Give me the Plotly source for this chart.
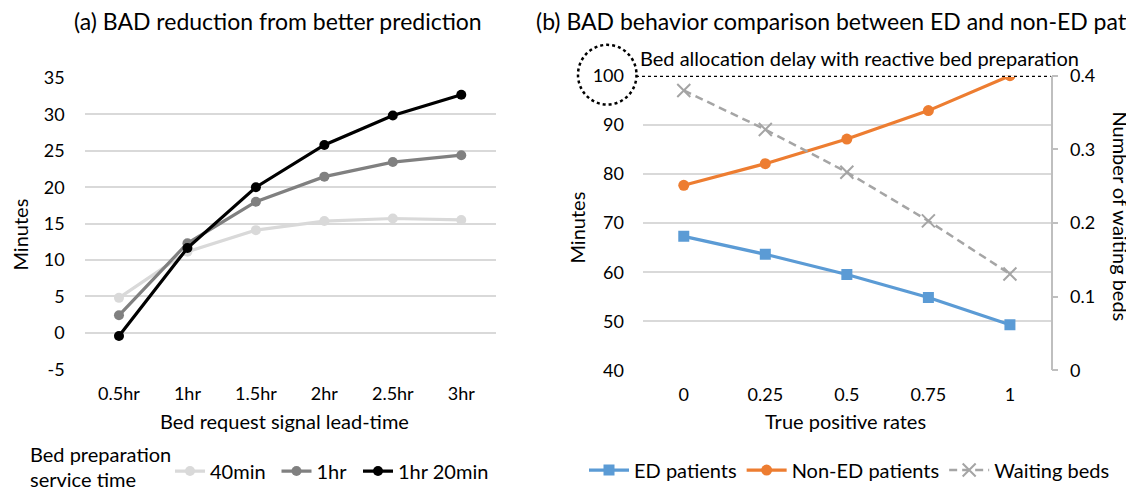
import plotly.graph_objects as go

# ---------------- data ----------------
lead_times = ["0.5hr", "1hr", "1.5hr", "2hr", "2.5hr", "3hr"]
bad_40min = [4.8, 11.15, 14.1, 15.35, 15.7, 15.5]
bad_1hr = [2.4, 12.3, 18.0, 21.45, 23.45, 24.4]
bad_1hr20 = [-0.45, 11.65, 20.0, 25.8, 29.85, 32.7]
left_ticks = [-5, 0, 5, 10, 15, 20, 25, 30, 35]

tpr = ["0", "0.25", "0.5", "0.75", "1"]
ed_patients = [67.3, 63.65, 59.55, 54.85, 49.3]
non_ed_patients = [77.7, 82.1, 87.1, 92.9, 100.0]
waiting_beds = [0.38, 0.327, 0.269, 0.203, 0.131]
minutes_ticks = [40, 50, 60, 70, 80, 90, 100]
beds_ticks = [0, 0.1, 0.2, 0.3, 0.4]
reactive_delay = 100

# ---------------- layout helpers ----------------
OFF = 8  # default page body margin
W, H = 1134 - OFF, 491 - OFF
FONT = "Lato, Carlito, sans-serif"
TICK = 18
TXT = 20


def px(x):
    return (x - OFF) / W


def py(y):
    return 1 - (y - OFF) / H


fig = go.Figure()

left_series = [("40min", bad_40min, "#D9D9D9", "legend"),
               ("1hr", bad_1hr, "#808080", "legend2"),
               ("1hr 20min", bad_1hr20, "#000000", "legend3")]
for name, vals, col, leg in left_series:
    fig.add_trace(go.Scatter(
        x=lead_times, y=vals, name=name, mode="lines+markers",
        line=dict(color=col, width=3.2),
        marker=dict(color=col, size=10, symbol="circle"),
        xaxis="x", yaxis="y", legend=leg))

fig.add_trace(go.Scatter(
    x=tpr, y=ed_patients, name="ED patients", mode="lines+markers",
    line=dict(color="#5B9BD5", width=3.2),
    marker=dict(color="#5B9BD5", size=11, symbol="square"),
    xaxis="x2", yaxis="y2", legend="legend4"))
fig.add_trace(go.Scatter(
    x=tpr, y=non_ed_patients, name="Non-ED patients", mode="lines+markers",
    line=dict(color="#ED7D31", width=3.2),
    marker=dict(color="#ED7D31", size=11, symbol="circle"),
    xaxis="x2", yaxis="y2", legend="legend4"))
fig.add_trace(go.Scatter(
    x=tpr, y=waiting_beds, name="Waiting beds", mode="lines+markers",
    line=dict(color="#A5A5A5", width=2.5, dash="8px,5px"),
    marker=dict(color="#A5A5A5", size=13, symbol="x-thin",
                line=dict(color="#A5A5A5", width=2)),
    xaxis="x2", yaxis="y3", legend="legend4"))

grid = "#D9D9D9"
common_x = dict(type="category", showgrid=False, showline=False, zeroline=False,
                ticks="", tickfont=dict(size=TICK, color="#000"), automargin=False,
                ticklabelstandoff=12)


def leg(x, y, **kw):
    d = dict(orientation="h", x=px(x), y=py(y), xanchor="left", yanchor="middle",
             font=dict(size=TXT, color="#000"), bgcolor="rgba(0,0,0,0)",
             traceorder="normal")
    d.update(kw)
    return d


fig.update_layout(
    width=W, height=H,
    margin=dict(l=0, r=0, t=0, b=0),
    paper_bgcolor="white", plot_bgcolor="white",
    font=dict(family=FONT, color="#000"),
    xaxis=dict(domain=[px(84.75), px(495.5)], range=[-0.5, 5.5], anchor="y", **common_x),
    yaxis=dict(domain=[py(370.7), py(78.3)], range=[-5, 35], tickvals=left_ticks,
               ticktext=[str(v) for v in left_ticks],
               showgrid=True, gridcolor=grid, gridwidth=1.5, zeroline=False, showline=False,
               tickfont=dict(size=TICK, color="#000"), automargin=False, anchor="x",
               ticklabelstandoff=19),
    xaxis2=dict(domain=[px(643), px(1050.7)], range=[-0.5, 4.5], anchor="y2", **common_x),
    yaxis2=dict(domain=[py(372), py(76)], range=[40, 100], tickvals=minutes_ticks,
                showgrid=True, gridcolor=grid, gridwidth=1.5, zeroline=False, showline=False,
                tickfont=dict(size=TICK, color="#000"), automargin=False, anchor="x2",
                ticklabelstandoff=18),
    yaxis3=dict(domain=[py(372), py(76)], range=[0, 0.4], tickvals=beds_ticks,
                overlaying="y2", side="right", anchor="x2", showgrid=False, zeroline=False,
                showline=True, linecolor="#BFBFBF", linewidth=1.5,
                ticks="outside", ticklen=6, tickcolor="#BFBFBF", tickwidth=1.5,
                tickfont=dict(size=TICK, color="#000"), automargin=False,
                ticklabelstandoff=8),
    legend=leg(170, 473),
    legend2=leg(276.5, 473),
    legend3=leg(358, 473),
    legend4=leg(584, 472, itemwidth=40),
    showlegend=True,
)

# reference line for reactive bed preparation
fig.add_shape(type="line", xref="paper", yref="y2", x0=px(636), x1=px(1050.7),
              y0=reactive_delay, y1=reactive_delay, line=dict(color="white", width=2.5),
              layer="above")
fig.add_shape(type="line", xref="paper", yref="y2", x0=px(636), x1=px(1050.7),
              y0=reactive_delay, y1=reactive_delay,
              line=dict(color="black", width=2.5, dash="dot"), layer="above")
fig.add_shape(type="circle", xref="paper", yref="paper", x0=px(578), x1=px(636.5),
              y0=py(105), y1=py(45), line=dict(color="black", width=2.5, dash="dot"))

ann = [
    dict(text="(a) BAD reduction from better prediction", x=px(277.6), y=py(21.5),
         xanchor="center", size=23),
    dict(text="(b) BAD behavior comparison between ED and non-ED patients", x=px(534),
         y=py(21.5), xanchor="left", size=23),
    dict(text="Bed allocation delay with reactive bed preparation", x=px(638), y=py(58),
         xanchor="left", size=20),
    dict(text="Bed request signal lead-time", x=px(284), y=py(423), xanchor="center", size=TXT),
    dict(text="True positive rates", x=px(845.5), y=py(423), xanchor="center", size=TXT),
    dict(text="Bed preparation", x=px(28), y=py(456), xanchor="left", size=TXT),
    dict(text="service time", x=px(28), y=py(481), xanchor="left", size=TXT),
]
for a in ann:
    fig.add_annotation(text=a["text"], x=a["x"], y=a["y"], xref="paper", yref="paper",
                       xanchor=a["xanchor"], yanchor="middle", showarrow=False,
                       align="left",
                       font=dict(size=a["size"], color="#000", family=FONT))

for text, x, y, ang in [("Minutes", 20.5, 236, -90), ("Minutes", 577.5, 229, -90),
                        ("Number of waiting beds", 1120.7, 217, 90)]:
    fig.add_annotation(text=text, x=px(x), y=py(y), xref="paper", yref="paper",
                       xanchor="center", yanchor="middle", showarrow=False, textangle=ang,
                       font=dict(size=TXT, color="#000", family=FONT))

fig.write_html("out.html")
